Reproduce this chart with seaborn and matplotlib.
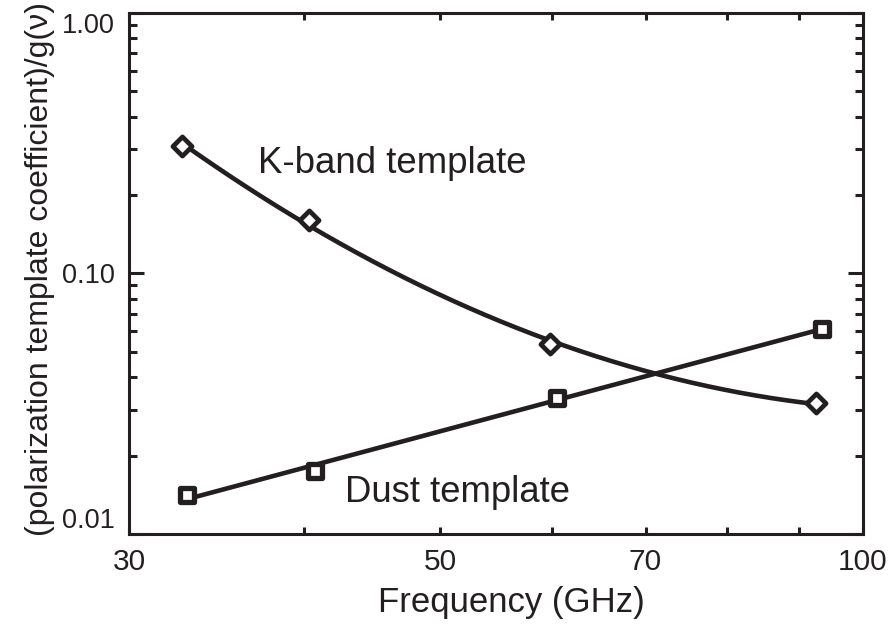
import numpy as np
import pandas as pd
import matplotlib
matplotlib.use("Agg")
import matplotlib.pyplot as plt
import matplotlib.ticker as mticker
import seaborn as sns

# values
kband_freq = [32.7, 40.3, 59.8, 92.6]
kband_coef = [0.309, 0.1605, 0.0536, 0.0318]
dust_freq = [33.0, 40.7, 60.5, 93.5]
dust_coef = [0.0141, 0.01745, 0.0333, 0.0612]

x_ticks = [30, 50, 70, 100]
x_minor = [40, 60, 80, 90]
y_ticks = [0.01, 0.1, 1.0]
y_tick_labels = ["0.01", "0.10", "1.00"]

ink = "#231f20"

sns.set_style("ticks")
plt.rcParams["font.family"] = ["Liberation Sans", "DejaVu Sans"]


def loglog_fit(fx, fy, order):
    # smooth fit through the points in log-log space, like the original curves
    lx, ly = np.log10(fx), np.log10(fy)
    coef = np.polyfit(lx, ly, order)
    xs = np.linspace(lx.min(), lx.max(), 200)
    return pd.DataFrame({"freq": 10 ** xs, "coef": 10 ** np.polyval(coef, xs)})


kband = pd.DataFrame({"freq": kband_freq, "coef": kband_coef})
dust = pd.DataFrame({"freq": dust_freq, "coef": dust_coef})
kband_curve = loglog_fit(kband["freq"], kband["coef"], 2)
dust_curve = loglog_fit(dust["freq"], dust["coef"], 1)

fig = plt.figure(figsize=(8.88, 6.28), dpi=100)
ax = fig.add_axes([0.1453, 0.1497, 0.8265, 0.8296])

sns.lineplot(data=kband_curve, x="freq", y="coef", ax=ax, color=ink, lw=3.3, estimator=None, sort=False)
sns.lineplot(data=dust_curve, x="freq", y="coef", ax=ax, color=ink, lw=3.3, estimator=None, sort=False)
sns.scatterplot(data=kband, x="freq", y="coef", ax=ax, marker="D", s=95,
                facecolor="white", edgecolor=ink, linewidth=3.4, zorder=5)
sns.scatterplot(data=dust, x="freq", y="coef", ax=ax, marker="s", s=110,
                facecolor="white", edgecolor=ink, linewidth=3.8, zorder=5)

ax.set_xscale("log")
ax.set_yscale("log")
ax.set_xlim(30, 100)
ax.set_ylim(0.01, 1.0)

ax.xaxis.set_major_locator(mticker.FixedLocator(x_ticks))
ax.xaxis.set_major_formatter(mticker.FixedFormatter([str(v) for v in x_ticks]))
ax.xaxis.set_minor_locator(mticker.FixedLocator(x_minor))
ax.xaxis.set_minor_formatter(mticker.NullFormatter())
ax.yaxis.set_major_locator(mticker.FixedLocator(y_ticks))
ax.yaxis.set_major_formatter(mticker.FixedFormatter(y_tick_labels))
ax.yaxis.set_minor_locator(mticker.LogLocator(base=10, subs=np.arange(2, 10)))
ax.yaxis.set_minor_formatter(mticker.NullFormatter())

for side in ["top", "right", "bottom", "left"]:
    ax.spines[side].set_visible(True)
    ax.spines[side].set_linewidth(2.2)
    ax.spines[side].set_color(ink)

ax.tick_params(axis="both", which="both", direction="in", top=True, right=True,
               width=2.2, color=ink, pad=10)
ax.tick_params(axis="x", which="both", length=5)
ax.tick_params(axis="y", which="major", length=11)
ax.tick_params(axis="y", which="minor", length=6)
ax.tick_params(axis="x", labelsize=21.5, labelcolor=ink)
ax.tick_params(axis="y", labelsize=19.5, labelcolor=ink)

# end labels on the y axis sit inside the axis range
ylabels = ax.get_yticklabels()
ylabels[0].set_verticalalignment("bottom")
ylabels[-1].set_verticalalignment("top")

ax.set_xlabel("Frequency (GHz)", fontsize=25, color=ink)
ax.xaxis.set_label_coords(0.5204, -0.10)
ax.set_ylabel("(polarization template coefficient)/g(\u03bd)", fontsize=23, color=ink)
ax.yaxis.set_label_coords(-0.1008, 0.5086)

ax.text(37.07, 0.243, "K-band template", fontsize=26.4, color=ink, ha="left", va="baseline")
ax.text(42.75, 0.01327, "Dust template", fontsize=26.3, color=ink, ha="left", va="baseline")

fig.savefig("out.png", dpi=100)
